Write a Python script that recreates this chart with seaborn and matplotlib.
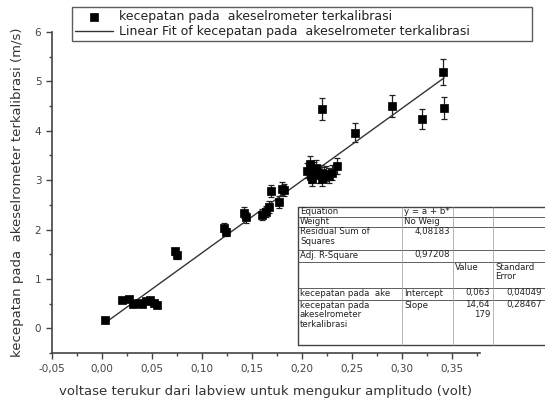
import matplotlib
matplotlib.use("Agg")
import matplotlib.pyplot as plt
import matplotlib.ticker as mticker
from matplotlib.patches import Rectangle
import numpy as np
import pandas as pd
import seaborn as sns

# data
voltase = [0.003, 0.020, 0.027, 0.031, 0.036, 0.040, 0.044, 0.048, 0.052, 0.055,
           0.073, 0.075, 0.122, 0.124, 0.142, 0.144, 0.160, 0.164, 0.167, 0.169,
           0.177, 0.180, 0.182,
           0.205, 0.208, 0.209, 0.210, 0.212, 0.214, 0.217, 0.219, 0.220, 0.222,
           0.224, 0.227, 0.230, 0.235,
           0.220, 0.253, 0.290, 0.320, 0.341, 0.342]
kecepatan = [0.16, 0.57, 0.60, 0.50, 0.52, 0.50, 0.55, 0.58, 0.52, 0.48,
             1.56, 1.48, 2.04, 1.95, 2.34, 2.25, 2.30, 2.36, 2.45, 2.78,
             2.55, 2.83, 2.80,
             3.19, 3.33, 3.09, 3.03, 3.22, 3.25, 3.10, 3.15, 3.03, 3.12,
             3.13, 3.09, 3.15, 3.29,
             4.44, 3.96, 4.50, 4.24, 5.19, 4.46]
galat = [0.02, 0.03, 0.03, 0.03, 0.03, 0.03, 0.03, 0.03, 0.03, 0.03,
         0.07, 0.07, 0.09, 0.09, 0.11, 0.11, 0.11, 0.11, 0.12, 0.13,
         0.12, 0.13, 0.13,
         0.15, 0.16, 0.15, 0.15, 0.15, 0.15, 0.15, 0.15, 0.15, 0.15,
         0.15, 0.15, 0.15, 0.16,
         0.22, 0.19, 0.22, 0.21, 0.26, 0.22]

intercept = 0.063
slope = 14.64179

tabel_isi = [
    ["Equation", "y = a + b*", "", ""],
    ["Weight", "No Weig", "", ""],
    ["Residual Sum of\nSquares", "4,08183", "", ""],
    ["Adj. R-Square", "0,97208", "", ""],
    ["", "", "Value", "Standard\nError"],
    ["kecepatan pada  ake", "Intercept", "0,063", "0,04049"],
    ["kecepatan pada\nakeselrometer\nterkalibrasi", "Slope", "14,64\n179", "0,28467"],
]
tabel_rata = [
    ["left", "left", "left", "left"],
    ["left", "left", "left", "left"],
    ["left", "right", "left", "left"],
    ["left", "right", "left", "left"],
    ["left", "left", "left", "left"],
    ["left", "left", "right", "right"],
    ["left", "left", "right", "right"],
]

label_data = "kecepatan pada  akeselrometer terkalibrasi"
label_fit = "Linear Fit of kecepatan pada  akeselrometer terkalibrasi"

df = pd.DataFrame({"x": voltase, "y": kecepatan, "err": galat})
x_fit = np.array([min(voltase), max(voltase)])
df_fit = pd.DataFrame({"x": x_fit, "y": intercept + slope * x_fit})

sns.set_style("ticks")
plt.rcParams["font.family"] = ["DejaVu Sans"]

W, H = 545, 404
fig = plt.figure(figsize=(W / 100, H / 100), dpi=100)
ax = fig.add_axes([0.095, 0.126, 0.786, 0.795])

ax.errorbar(df["x"], df["y"], yerr=df["err"], fmt="none", ecolor="#222222",
            elinewidth=0.9, capsize=2.5, capthick=0.9, zorder=2)
sns.lineplot(data=df_fit, x="x", y="y", color="#333333", lw=1.0,
             label=label_fit, ax=ax, zorder=3)
sns.scatterplot(data=df, x="x", y="y", marker="s", s=34, color="black",
                edgecolor="black", linewidth=0.5, label=label_data, ax=ax,
                zorder=4)

ax.set_xlim(-0.05, 0.378)
ax.set_ylim(-0.5, 6)
ax.xaxis.set_major_locator(mticker.MultipleLocator(0.05))
ax.xaxis.set_minor_locator(mticker.MultipleLocator(0.025))
ax.yaxis.set_major_locator(mticker.MultipleLocator(1))
ax.yaxis.set_minor_locator(mticker.MultipleLocator(0.5))
ax.xaxis.set_major_formatter(mticker.FuncFormatter(lambda v, p: f"{v:.2f}".replace(".", ",")))
ax.yaxis.set_major_formatter(mticker.FuncFormatter(lambda v, p: f"{v:.0f}"))
ax.tick_params(axis="both", which="major", length=4, width=1, labelsize=7.5,
               labelcolor="#444444", color="#444444")
ax.tick_params(axis="both", which="minor", length=2.5, width=1, color="#444444")
for s in ["top", "right"]:
    ax.spines[s].set_visible(False)
for s in ["left", "bottom"]:
    ax.spines[s].set_color("#444444")
    ax.spines[s].set_linewidth(1.2)

ax.set_xlabel("voltase terukur dari labview untuk mengukur amplitudo (volt)",
              fontsize=9.5, color="#333333", labelpad=8)
ax.set_ylabel("kecepatan pada  akeselrometer terkalibrasi (m/s)",
              fontsize=9.5, color="#333333", labelpad=8)

# legend order: points first, then fit line
handles, labels = ax.get_legend_handles_labels()
order = [labels.index(label_data), labels.index(label_fit)]
leg = ax.legend([handles[i] for i in order], [labels[i] for i in order],
                loc="upper left", bbox_to_anchor=(0.047, 1.077, 1.074, 0.0),
                mode="expand", frameon=True, fancybox=False, fontsize=9,
                borderpad=0.25, handlelength=3.0, labelspacing=0.15,
                handletextpad=0.5, borderaxespad=0)
leg.get_frame().set_edgecolor("#333333")
leg.get_frame().set_linewidth(1.0)
for t in leg.get_texts():
    t.set_color("#222222")

# fit statistics table, drawn in figure pixel coordinates
kolom = [298, 402, 453, 493, 560]
baris = [207, 217, 227, 250, 262, 288, 300, 345]


def fx(px):
    return px / W


def fy(py):
    return 1 - py / H


fig.patches.append(Rectangle((fx(kolom[0]), fy(baris[-1])),
                             fx(kolom[-1]) - fx(kolom[0]),
                             fy(baris[0]) - fy(baris[-1]),
                             transform=fig.transFigure, facecolor="white",
                             edgecolor="none", zorder=5))
for py in baris:
    lw = 1.0 if py in (baris[0], baris[-1]) else 0.6
    fig.add_artist(plt.Line2D([fx(kolom[0]), fx(kolom[-1])], [fy(py), fy(py)],
                              transform=fig.transFigure, color="#444444",
                              lw=lw, zorder=6))
for i, px in enumerate(kolom[:-1]):
    lw = 1.0 if i == 0 else 0.5
    warna = "#444444" if i == 0 else "#999999"
    fig.add_artist(plt.Line2D([fx(px), fx(px)], [fy(baris[0]), fy(baris[-1])],
                              transform=fig.transFigure, color=warna,
                              lw=lw, zorder=6))
for r, isi_baris in enumerate(tabel_isi):
    for c, teks in enumerate(isi_baris):
        if not teks:
            continue
        rata = tabel_rata[r][c]
        px = kolom[c] + 2 if rata == "left" else min(kolom[c + 1], 545) - 3
        fig.text(fx(px), fy(baris[r] + 0.5), teks, ha=rata, va="top",
                 multialignment=rata, fontsize=6.2, color="#222222",
                 linespacing=1.1, zorder=7)

fig.savefig("out.png", dpi=100)
